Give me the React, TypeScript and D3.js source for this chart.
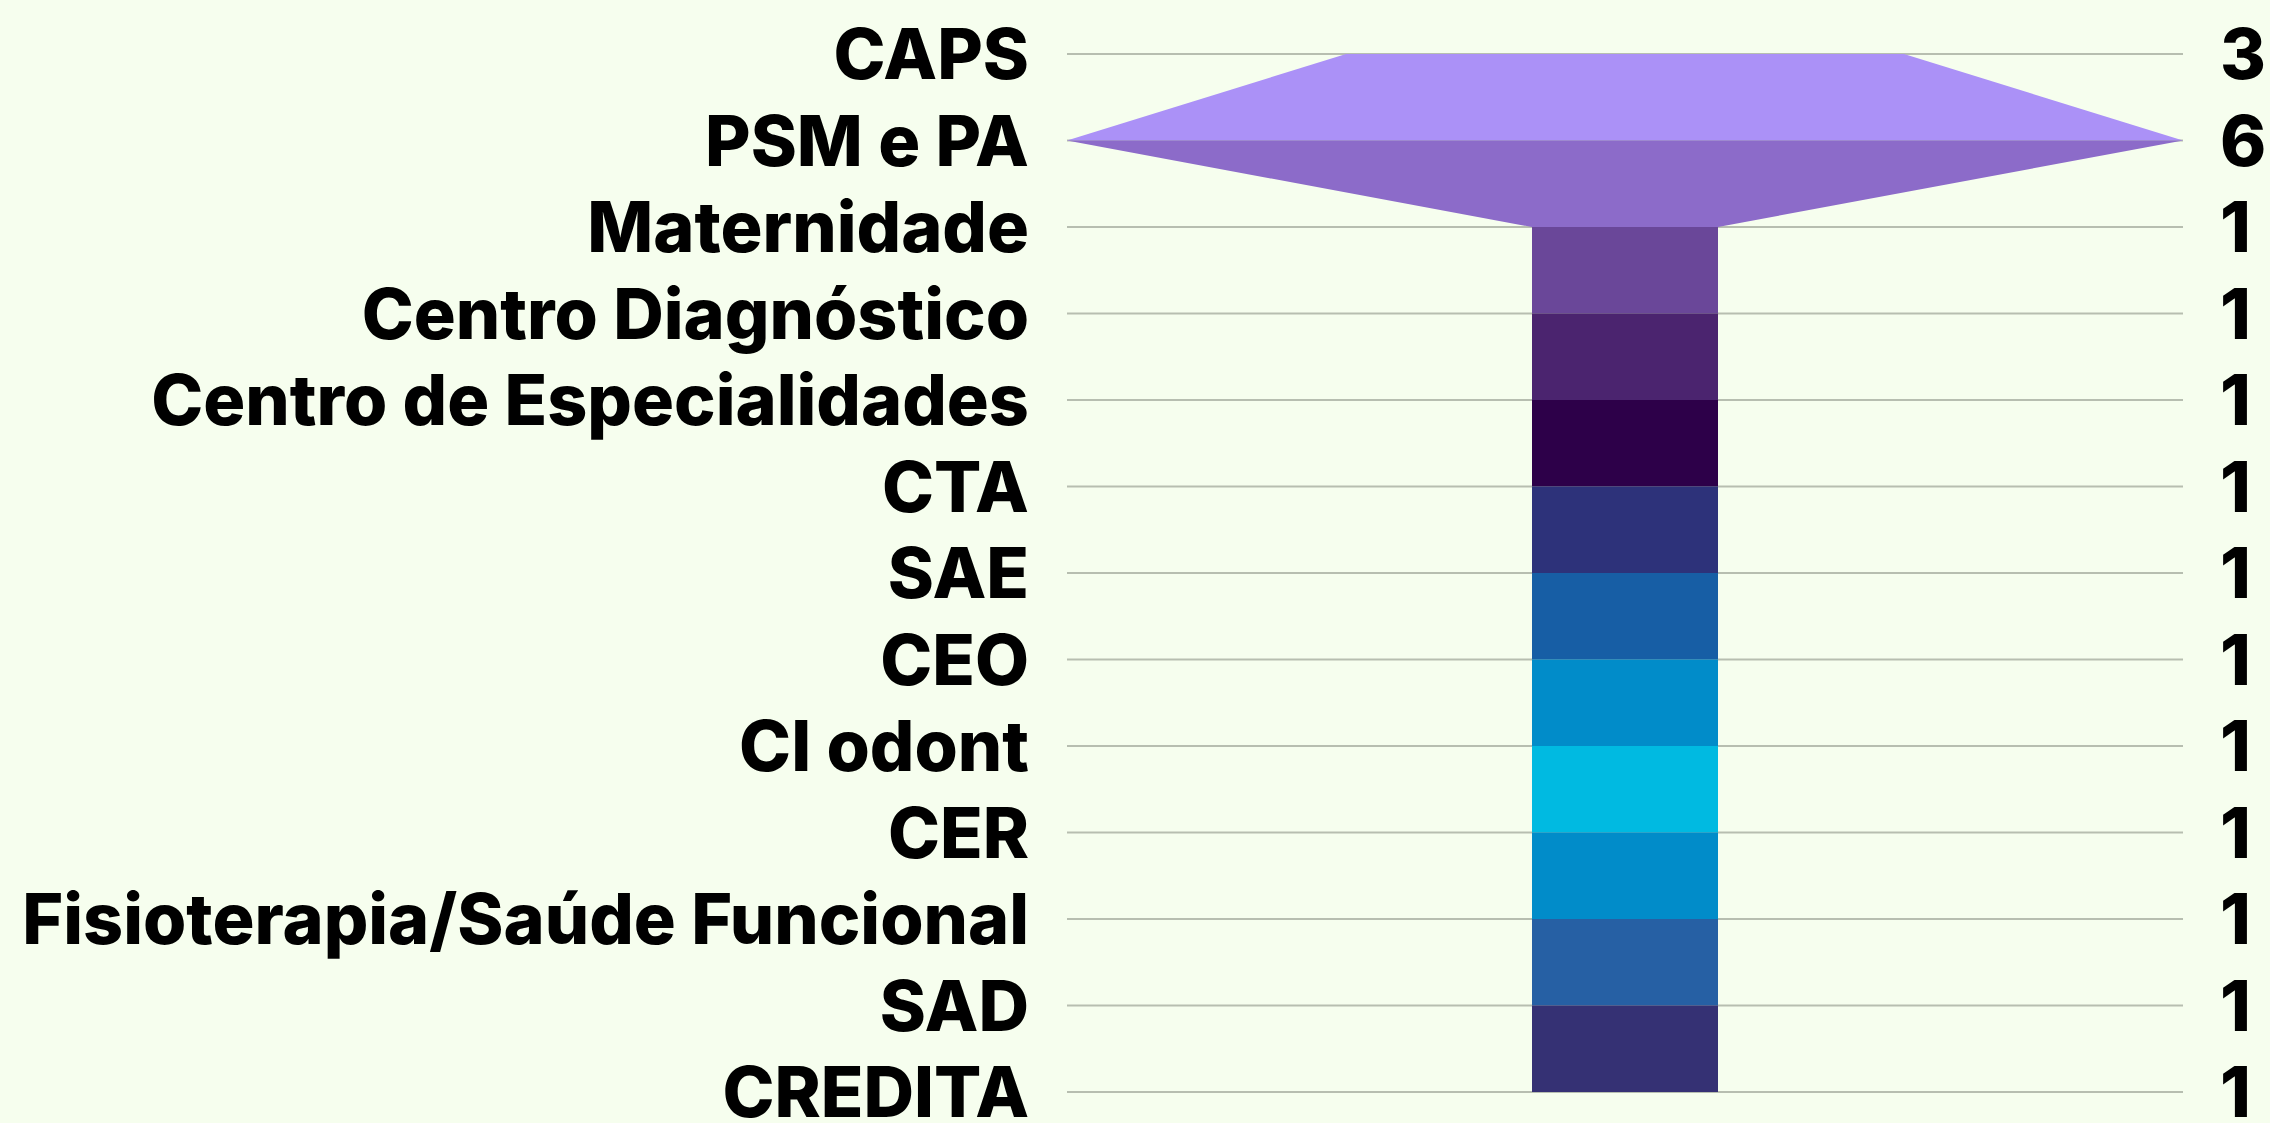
import React from "react";
import * as d3 from "d3";

const categories = [
  "CAPS",
  "PSM e PA",
  "Maternidade",
  "Centro Diagnóstico",
  "Centro de Especialidades",
  "CTA",
  "SAE",
  "CEO",
  "CI odont",
  "CER",
  "Fisioterapia/Saúde Funcional",
  "SAD",
  "CREDITA",
];
const values = [3, 6, 1, 1, 1, 1, 1, 1, 1, 1, 1, 1, 1];
const colors = [
  "#AB91F7",
  "#8C6BC9",
  "#6A4799",
  "#4B246F",
  "#2D0049",
  "#2D327A",
  "#175EA5",
  "#018CC9",
  "#00BAE1",
  "#018CC9",
  "#2660A4",
  "#353174",
  "#353174",
];

const W = 2270;
const H = 1123;
const lineX0 = 1067;
const lineX1 = 2183;
const cx = (lineX0 + lineX1) / 2;
const FONT = "Inter, 'Noto Sans', sans-serif";
const FS = 70;

export default function App() {
  const y = d3.scalePoint<string>().domain(categories).range([54, 1092]);
  const wScale = d3
    .scaleLinear()
    .domain([0, d3.max(values) as number])
    .range([0, lineX1 - lineX0]);

  const area = d3
    .area<{ yy: number; v: number }>()
    .y((d) => d.yy)
    .x0((d) => cx - wScale(d.v) / 2)
    .x1((d) => cx + wScale(d.v) / 2)
    .curve(d3.curveLinear);

  const segs = categories.slice(0, -1).map((c, i) => ({
    color: colors[i],
    d: area([
      { yy: y(c) as number, v: values[i] },
      { yy: y(categories[i + 1]) as number, v: values[i + 1] },
    ]) as string,
  }));

  const capOffset = FS * 0.364;

  return (
    <svg
      width={W}
      height={H}
      style={{ position: "absolute", left: 0, top: 0, display: "block" }}
    >
      <rect x={0} y={0} width={W} height={H} fill="#F6FEEE" />
      {categories.map((c) => (
        <line
          key={"g" + c}
          x1={lineX0}
          x2={lineX1}
          y1={y(c)}
          y2={y(c)}
          stroke="#B7BEB0"
          strokeWidth={2}
        />
      ))}
      {segs.map((s, i) => (
        <path key={"s" + i} d={s.d} fill={s.color} />
      ))}
      {categories.map((c) => (
        <text
          key={"l" + c}
          x={1029}
          y={(y(c) as number) + capOffset}
          textAnchor="end"
          fontFamily={FONT}
          fontWeight={800}
          fontSize={FS}
          fill="#000"
        >
          {c}
        </text>
      ))}
      {categories.map((c, i) => (
        <text
          key={"v" + c}
          x={2220}
          y={(y(c) as number) + capOffset}
          textAnchor="start"
          fontFamily={FONT}
          fontWeight={800}
          fontSize={FS}
          fill="#000"
        >
          {values[i]}
        </text>
      ))}
    </svg>
  );
}
